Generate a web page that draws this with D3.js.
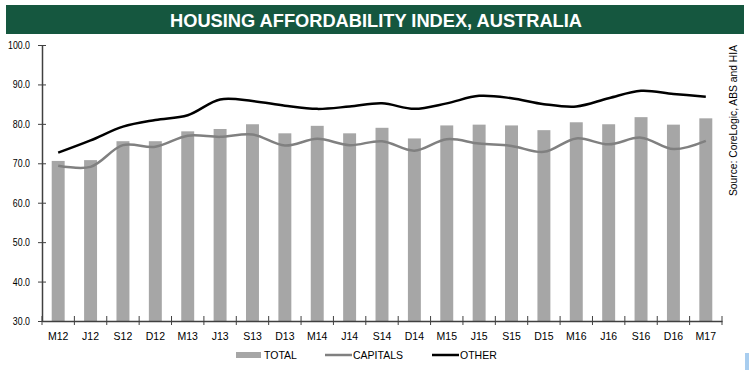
<!DOCTYPE html>
<html>
<head>
<meta charset="utf-8">
<script src="https://cdn.jsdelivr.net/npm/d3@7"></script>
<style>
  html, body { margin: 0; padding: 0; background: #ffffff; }
  svg { display: block; }
</style>
</head>
<body>
<div id="chart"></div>
<script>
const categories = ["M12","J12","S12","D12","M13","J13","S13","D13","M14","J14","S14","D14","M15","J15","S15","D15","M16","J16","S16","D16","M17"];
const totalValues =    [70.6,70.8,75.6,75.6,78.1,78.7,79.9,77.6,79.5,77.6,79.0,76.3,79.6,79.8,79.6,78.4,80.4,79.9,81.7,79.8,81.4];
const capitalsValues = [69.4,69.1,74.6,74.2,77.0,76.7,77.3,74.5,76.2,74.6,75.6,73.2,76.1,75.0,74.4,72.9,76.3,74.8,76.5,73.6,75.7];
const otherValues =    [72.7,75.8,79.3,81.0,82.2,86.2,85.8,84.6,83.8,84.4,85.2,83.8,85.2,87.1,86.5,85.0,84.4,86.5,88.4,87.6,86.9];
const yTicks = [30,40,50,60,70,80,90,100];
const titleText = "HOUSING AFFORDABILITY INDEX, AUSTRALIA";
const sourceText = "Source: CoreLogic, ABS and HIA";
const legendLabels = ["TOTAL","CAPITALS","OTHER"];

const W = 749, H = 370;
const svg = d3.select("#chart").append("svg").attr("width", W).attr("height", H);

// Title bar
svg.append("rect").attr("x", 6).attr("y", 5).attr("width", 738).attr("height", 29).attr("fill", "#15573f");
svg.append("text").attr("x", 376).attr("y", 26.5).attr("text-anchor", "middle")
  .attr("fill", "#ffffff").attr("font-family", "Liberation Sans, Arial, sans-serif")
  .attr("font-weight", "bold").attr("font-size", 17.5)
  .attr("textLength", 412).attr("lengthAdjust", "spacingAndGlyphs")
  .text(titleText);

const x0 = 42, x1 = 722, yTop = 45, yBot = 321;
const x = d3.scaleBand().domain(categories).range([x0, x1]).paddingInner(0.6).paddingOuter(0.3);
const y = d3.scaleLinear().domain([30, 100]).range([yBot, yTop]);
const axisColor = "#404040";

// Bars
svg.append("g").selectAll("rect").data(categories).join("rect")
  .attr("x", d => x(d)).attr("width", x.bandwidth())
  .attr("y", (d, i) => y(totalValues[i])).attr("height", (d, i) => yBot - y(totalValues[i]))
  .attr("fill", "#a6a6a6");

// Lines
const line = d3.line().x((d, i) => x(categories[i]) + x.bandwidth() / 2).y(d => y(d)).curve(d3.curveCatmullRom.alpha(0.5));
svg.append("path").datum(capitalsValues).attr("d", line).attr("fill", "none").attr("stroke", "#808080").attr("stroke-width", 2.5);
svg.append("path").datum(otherValues).attr("d", line).attr("fill", "none").attr("stroke", "#000000").attr("stroke-width", 2.5);

// Y axis
const yAxis = svg.append("g").attr("transform", `translate(${x0},0)`)
  .call(d3.axisLeft(y).tickValues(yTicks).tickFormat(d3.format(".1f")).tickSizeInner(4).tickSizeOuter(0).tickPadding(8));
yAxis.select(".domain").attr("stroke", axisColor).attr("stroke-width", 1.5);
yAxis.selectAll(".tick line").attr("x1", 4).attr("stroke", axisColor);
yAxis.selectAll(".tick text").attr("fill", "#000").attr("font-family", "Liberation Sans, Arial, sans-serif").attr("font-size", 11)
  .each(function () {
    const len = this.getComputedTextLength();
    d3.select(this).attr("textLength", len * 0.8).attr("lengthAdjust", "spacingAndGlyphs");
  });

// X axis
const xAxis = svg.append("g").attr("transform", `translate(0,${yBot})`)
  .call(d3.axisBottom(x).tickSize(0).tickPadding(12));
xAxis.select(".domain").attr("stroke", axisColor).attr("stroke-width", 1.5);
xAxis.selectAll(".tick text").attr("fill", "#000").attr("font-family", "Liberation Sans, Arial, sans-serif").attr("font-size", 10.5);
const boundaries = d3.range(categories.length + 1).map(i => x0 + i * x.step());
xAxis.append("g").selectAll("line").data(boundaries).join("line")
  .attr("x1", d => d).attr("x2", d => d).attr("y1", -5).attr("y2", 4)
  .attr("stroke", axisColor).attr("stroke-width", 1);

// Legend
const lg = svg.append("g").attr("font-family", "Liberation Sans, Arial, sans-serif").attr("font-size", 10.5).attr("fill", "#000");
lg.append("rect").attr("x", 236).attr("y", 352).attr("width", 25).attr("height", 6).attr("fill", "#a6a6a6");
lg.append("text").attr("x", 264).attr("y", 359).text(legendLabels[0]);
lg.append("line").attr("x1", 325).attr("x2", 352).attr("y1", 355).attr("y2", 355).attr("stroke", "#808080").attr("stroke-width", 2.5);
lg.append("text").attr("x", 353).attr("y", 359).text(legendLabels[1]);
lg.append("line").attr("x1", 432).attr("x2", 459).attr("y1", 355).attr("y2", 355).attr("stroke", "#000").attr("stroke-width", 2.5);
lg.append("text").attr("x", 460).attr("y", 359).text(legendLabels[2]);

// Source
svg.append("text").attr("transform", "translate(737,45) rotate(-90)").attr("text-anchor", "end")
  .attr("font-family", "Liberation Sans, Arial, sans-serif").attr("font-size", 10.3).attr("fill", "#000")
  .text(sourceText);

// small blue mark bottom-right
svg.append("rect").attr("x", 745).attr("y", 353).attr("width", 4).attr("height", 17).attr("fill", "#a8cdef");
</script>
</body>
</html>
